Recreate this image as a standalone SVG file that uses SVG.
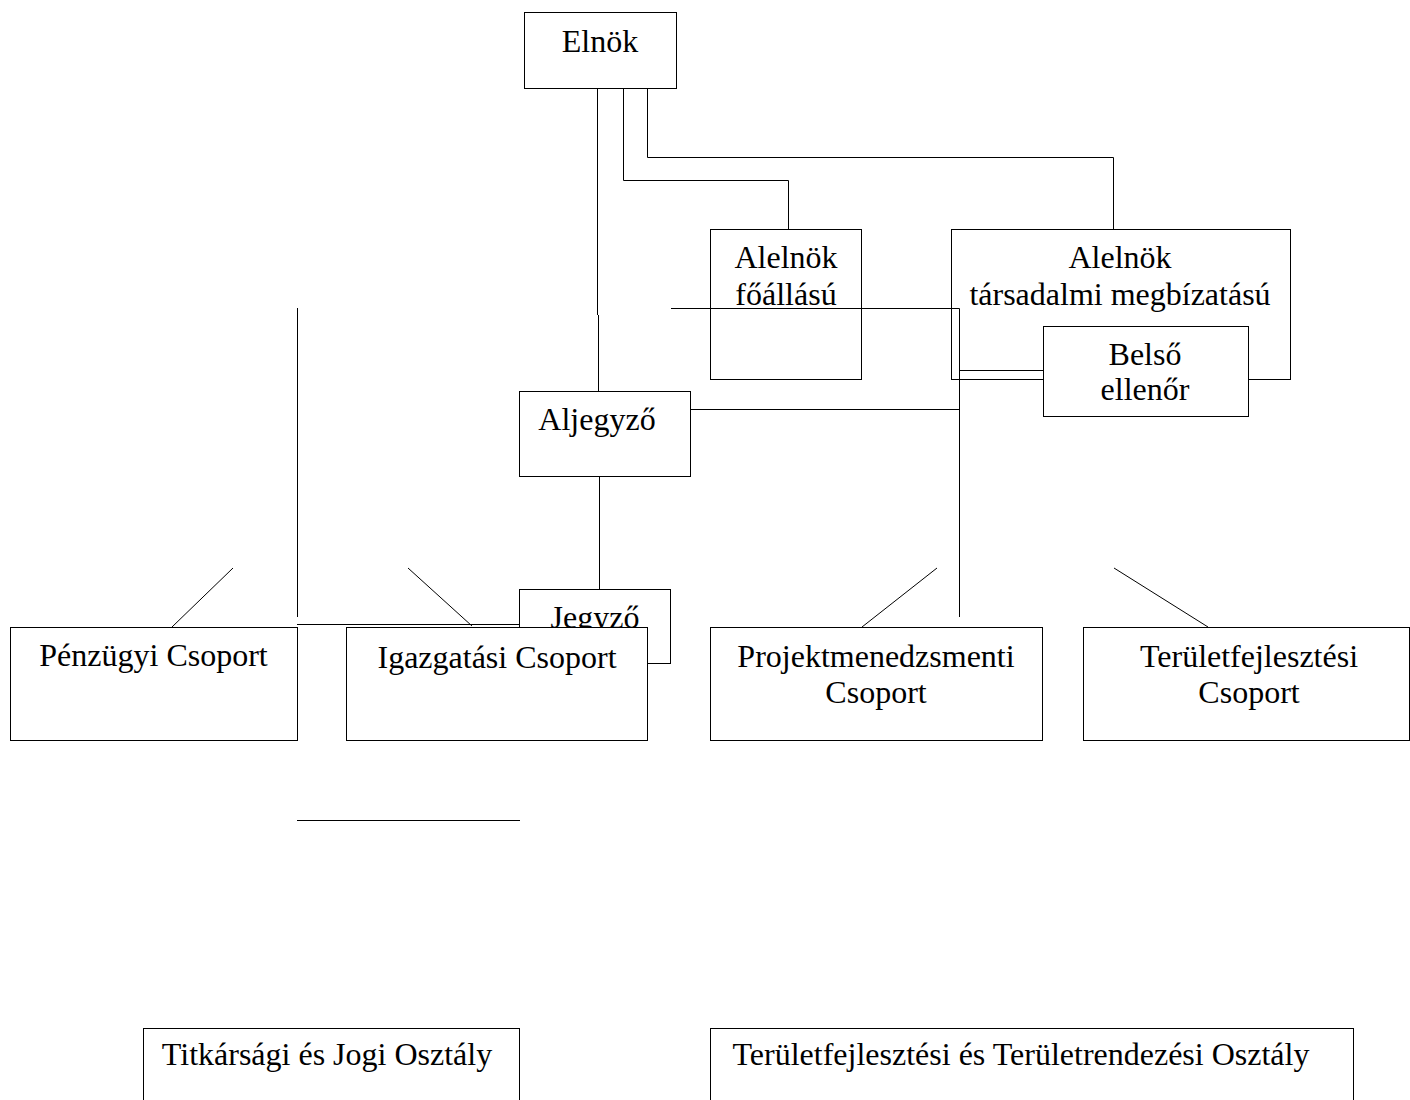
<svg xmlns="http://www.w3.org/2000/svg" width="1410" height="1100" viewBox="0 0 1410 1100">
<style>
.box{fill:#fff;stroke:#000;stroke-width:1}
.open{fill:none;stroke:#000;stroke-width:1}
.t{font-family:"Liberation Serif","Times New Roman",serif;font-size:32px;fill:#000;text-anchor:middle}
.c{fill:none;stroke:#000;stroke-width:1}
</style>
<rect width="1410" height="1100" fill="#fff"/>
<g id="elnok"><rect class="box" x="524.5" y="12.5" width="152" height="76"/><text class="t" x="600" y="52">Elnök</text></g>
<g id="alelnok-foallasu"><rect class="open" x="710.5" y="229.5" width="151" height="150"/><text class="t" x="786" y="268">Alelnök</text><text class="t" x="786" y="305">főállású</text></g>
<g id="alelnok-tarsadalmi"><rect class="box" x="951.5" y="229.5" width="339" height="150"/><text class="t" x="1120" y="268">Alelnök</text><text class="t" x="1120" y="305">társadalmi megbízatású</text></g>
<g id="belso-ellenor"><rect class="box" x="1043.5" y="326.5" width="205" height="90"/><text class="t" x="1145" y="365">Belső</text><text class="t" x="1145" y="400">ellenőr</text></g>
<g id="aljegyzo"><rect class="box" x="519.5" y="391.5" width="171" height="85"/><text class="t" x="597" y="430">Aljegyző</text></g>
<g id="jegyzo"><rect class="box" x="519.5" y="589.5" width="151" height="74"/><text class="t" x="595" y="628">Jegyző</text></g>
<g id="penzugyi"><rect class="box" x="10.5" y="627.5" width="287" height="113"/><text class="t" x="153.5" y="666">Pénzügyi Csoport</text></g>
<g id="igazgatasi"><rect class="box" x="346.5" y="627.5" width="301" height="113"/><text class="t" x="497" y="668">Igazgatási Csoport</text></g>
<g id="projekt"><rect class="box" x="710.5" y="627.5" width="332" height="113"/><text class="t" x="876" y="667">Projektmenedzsmenti</text><text class="t" x="876" y="703">Csoport</text></g>
<g id="teruletfejlesztesi-csoport"><rect class="box" x="1083.5" y="627.5" width="326" height="113"/><text class="t" x="1249" y="667">Területfejlesztési</text><text class="t" x="1249" y="703">Csoport</text></g>
<g id="titkarsagi"><rect class="box" x="143.5" y="1028.5" width="376" height="90"/><text class="t" x="327" y="1065">Titkársági és Jogi Osztály</text></g>
<g id="teruletrendezesi"><rect class="box" x="710.5" y="1028.5" width="643" height="90"/><text class="t" x="1021" y="1065">Területfejlesztési és Területrendezési Osztály</text></g>
<g id="connectors">
<path class="c" d="M597.5 88 V315 M598.5 315 V391"/>
<path class="c" d="M623.5 88 V180.5 H788.5 V229"/>
<path class="c" d="M647.5 88 V157.5 H1113.5 V229"/>
<path class="c" d="M671 308.5 H959.5 V617"/>
<path class="c" d="M690 409.5 H960"/>
<path class="c" d="M959.5 370.5 H1043"/>
<path class="c" d="M599.5 476 V589"/>
<path class="c" d="M297.5 308 V617"/>
<path class="c" d="M297 624.5 H520"/>
<path class="c" d="M233 568 L172 627"/>
<path class="c" d="M408 568 L472 626"/>
<path class="c" d="M937 568 L862 627"/>
<path class="c" d="M1114 568 L1208 627"/>
<path class="c" d="M297 820.5 H520"/>
</g>
</svg>
